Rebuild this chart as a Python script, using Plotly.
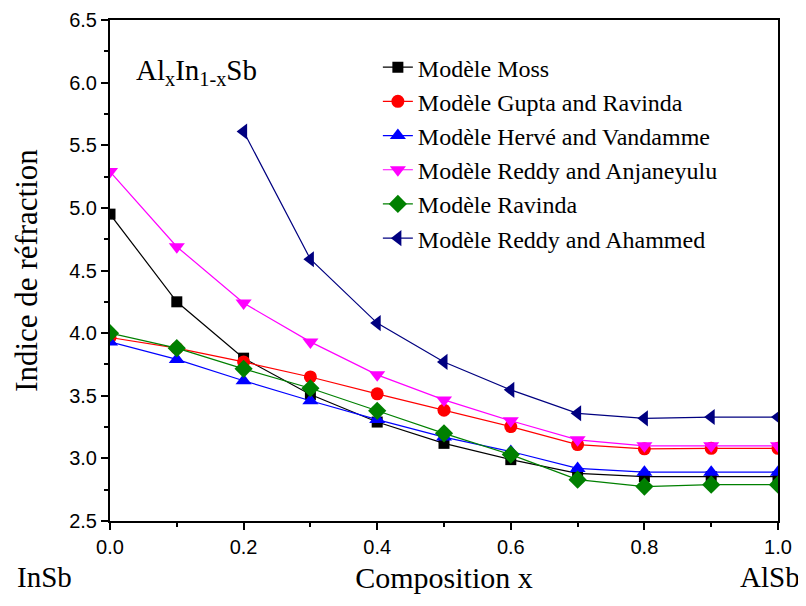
import plotly.graph_objects as go

x_comp = [0.0, 0.1, 0.2, 0.3, 0.4, 0.5, 0.6, 0.7, 0.8, 0.9, 1.0]

moss = [4.95, 4.25, 3.80, 3.51, 3.29, 3.12, 2.99, 2.88, 2.855, 2.855, 2.855]
gupta = [3.965, 3.88, 3.77, 3.65, 3.515, 3.385, 3.254, 3.11, 3.076, 3.08, 3.08]
herve = [3.93, 3.79, 3.62, 3.46, 3.31, 3.17, 3.055, 2.92, 2.89, 2.89, 2.89]
reddy_anj = [5.29, 4.69, 4.24, 3.93, 3.667, 3.467, 3.30, 3.148, 3.10, 3.10, 3.10]
ravinda = [4.00, 3.88, 3.715, 3.56, 3.38, 3.20, 3.03, 2.83, 2.775, 2.79, 2.79]
x_ahammed = [0.2, 0.3, 0.4, 0.5, 0.6, 0.7, 0.8, 0.9, 1.0]
reddy_aha = [5.61, 4.59, 4.08, 3.77, 3.547, 3.36, 3.32, 3.33, 3.33]

series_names = [
    "Modèle Moss",
    "Modèle Gupta and Ravinda",
    "Modèle Hervé and Vandamme",
    "Modèle Reddy and Anjaneyulu",
    "Modèle Ravinda",
    "Modèle Reddy and Ahammed",
]

x_ticks = [0.0, 0.2, 0.4, 0.6, 0.8, 1.0]
x_ticklabels = ["0.0", "0.2", "0.4", "0.6", "0.8", "1.0"]
y_ticks = [2.5, 3.0, 3.5, 4.0, 4.5, 5.0, 5.5, 6.0, 6.5]
y_ticklabels = ["2.5", "3.0", "3.5", "4.0", "4.5", "5.0", "5.5", "6.0", "6.5"]

serif = "Liberation Serif"
sans = "Liberation Sans"

specs = [
    (x_comp, moss, "black", "square", 11),
    (x_comp, gupta, "#FF0000", "circle", 13),
    (x_comp, herve, "#0000FF", "triangle-up", 14),
    (x_comp, reddy_anj, "#FF00FF", "triangle-down", 14),
    (x_comp, ravinda, "#008000", "diamond", 14),
    (x_ahammed, reddy_aha, "#000080", "triangle-left", 14),
]

fig = go.Figure()
for i, (xs, ys, col, sym, sz) in enumerate(specs):
    fig.add_trace(go.Scatter(
        x=xs, y=ys, mode="lines+markers", name=series_names[i],
        line=dict(color=col, width=1.2),
        marker=dict(color=col, symbol=sym, size=sz, line=dict(width=0)),
    ))

# page body has an 8px margin, so the figure is 8px smaller and margins shifted
fig.update_layout(
    width=798, height=598,
    margin=dict(l=102, r=28, t=12, b=85),
    paper_bgcolor="white", plot_bgcolor="white",
    font=dict(family=serif, color="black"),
    showlegend=True,
    legend=dict(
        x=0.401, y=0.95, xanchor="left", yanchor="top",
        font=dict(family=serif, size=24, color="black"),
        bgcolor="rgba(0,0,0,0)",
    ),
    annotations=[
        dict(text="Al<sub>x</sub>In<sub>1-x</sub>Sb", xref="paper", yref="paper",
             x=(196 - 110) / 668, y=1 - (72 - 20) / 501,
             xanchor="center", yanchor="middle", showarrow=False,
             font=dict(family=serif, size=29, color="black")),
        dict(text="InSb", xref="paper", yref="paper", x=-0.098, y=-0.112,
             xanchor="center", yanchor="middle", showarrow=False,
             font=dict(family=serif, size=29, color="black")),
        dict(text="AlSb", xref="paper", yref="paper", x=0.988, y=-0.112,
             xanchor="center", yanchor="middle", showarrow=False,
             font=dict(family=serif, size=29, color="black")),
    ],
)

fig.update_xaxes(
    range=[0, 1], tickvals=x_ticks, ticktext=x_ticklabels, automargin=False,
    ticks="outside", ticklen=7, tickwidth=1.5, tickcolor="black",
    minor=dict(ticks="outside", ticklen=4, dtick=0.1, tickcolor="black", tickwidth=1.5),
    showline=True, linecolor="black", linewidth=2, mirror=True,
    showgrid=False, zeroline=False,
    tickfont=dict(family=sans, size=20, color="black"),
    title=dict(text="Composition x", font=dict(family=serif, size=30, color="black"), standoff=10),
)
fig.update_yaxes(
    range=[2.5, 6.5], tickvals=y_ticks, ticktext=y_ticklabels, automargin=False,
    ticks="outside", ticklen=7, tickwidth=1.5, tickcolor="black",
    minor=dict(ticks="outside", ticklen=4, dtick=0.25, tickcolor="black", tickwidth=1.5),
    showline=True, linecolor="black", linewidth=2, mirror=True,
    showgrid=False, zeroline=False,
    tickfont=dict(family=sans, size=20, color="black"),
    title=dict(text="Indice de réfraction", font=dict(family=serif, size=31, color="black"), standoff=22),
)

fig.write_html("out.html")
